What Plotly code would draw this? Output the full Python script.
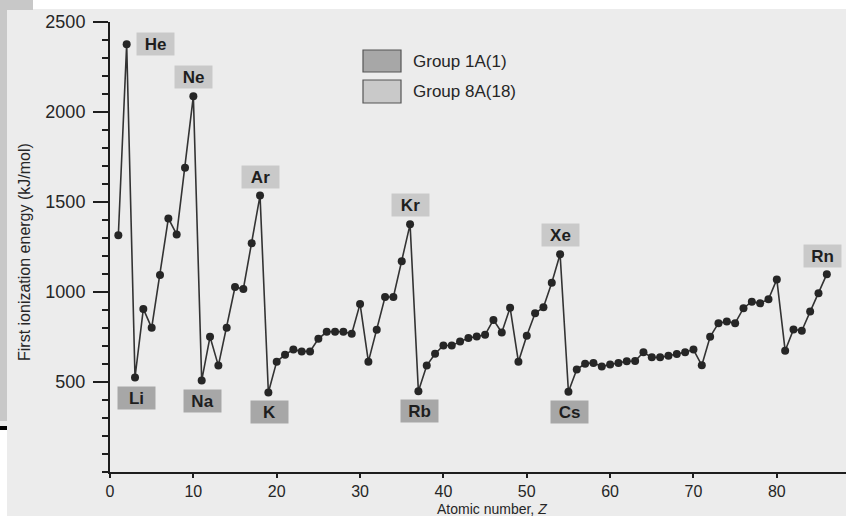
import plotly.graph_objects as go

# ---------------- data ----------------
atomic_number = list(range(1, 87))
ionization_energy = [
    1315, 2376, 525, 906, 801, 1094, 1409, 1320, 1690, 2088,      # 1-10
    508, 751, 591, 801, 1028, 1017, 1271, 1536, 442, 613,          # 11-20
    652, 680, 670, 670, 740, 779, 779, 779, 768, 934,              # 21-30
    613, 790, 972, 972, 1171, 1376, 448, 591, 657, 703,            # 31-40
    703, 725, 744, 753, 762, 845, 775, 913, 612, 757,              # 41-50
    882, 915, 1051, 1210, 446, 569, 602, 606, 586, 597,            # 51-60
    606, 615, 617, 665, 637, 637, 646, 656, 665, 680,              # 61-70
    593, 751, 827, 836, 827, 910, 946, 937, 960, 1070,             # 71-80
    674, 792, 785, 891, 993, 1099,                                 # 81-86
]

group1_symbols = ["Li", "Na", "K", "Rb", "Cs"]
group1_z = [3, 11, 19, 37, 55]
group8_symbols = ["He", "Ne", "Ar", "Kr", "Xe", "Rn"]
group8_z = [2, 10, 18, 36, 54, 86]

x_tick_vals = [0, 10, 20, 30, 40, 50, 60, 70, 80]
y_tick_vals = [500, 1000, 1500, 2000, 2500]
legend_labels = ["Group 1A(1)", "Group 8A(18)"]

# ---------------- style ----------------
W, H = 846, 516
ML, MR, MT, MB = 110, 0, 22, 44
PW, PH = W - ML - MR, H - MT - MB
FONT = "Liberation Sans, Arial, Helvetica, sans-serif"
INK = "#1e1e1e"
TXT = "#262626"
G1_COLOR = "#a7a7a7"
G8_COLOR = "#c9c9c9"
BG = "#ececec"


def px_x(p):
    return (p - ML) / PW


def px_y(p):
    return (H - MB - p) / PH


fig = go.Figure()

fig.add_trace(go.Scatter(
    x=atomic_number, y=ionization_energy, mode="lines+markers",
    line=dict(color="#333333", width=1.6),
    marker=dict(color="#262626", size=8),
    hoverinfo="x+y", showlegend=False,
))

annotations = []
energy_of = dict(zip(atomic_number, ionization_energy))

for sym, z in zip(group8_symbols, group8_z):
    if sym == "He":
        xs, ys = 29, 0
    elif sym == "Rn":
        xs, ys = -4, 18
    else:
        xs, ys = 0, 19
    annotations.append(dict(
        x=z, y=energy_of[z], xref="x", yref="y", text="<b>%s</b>" % sym,
        showarrow=False, xshift=xs, yshift=ys, bgcolor=G8_COLOR,
        width=35, height=20, borderpad=1,
        font=dict(family=FONT, size=17, color=INK),
    ))

for sym, z in zip(group1_symbols, group1_z):
    annotations.append(dict(
        x=z, y=energy_of[z], xref="x", yref="y", text="<b>%s</b>" % sym,
        showarrow=False, xshift=1, yshift=-20, bgcolor=G1_COLOR,
        width=35, height=20, borderpad=1,
        font=dict(family=FONT, size=17, color=INK),
    ))

# legend
shapes = []
leg_rows = [(50, 72), (80, 103)]
for (y0, y1), col, lab in zip(leg_rows, [G1_COLOR, G8_COLOR], legend_labels):
    shapes.append(dict(type="rect", xref="paper", yref="paper",
                       x0=px_x(363), x1=px_x(401), y0=px_y(y1), y1=px_y(y0),
                       fillcolor=col, line=dict(color="#555555", width=1.2)))
    annotations.append(dict(
        x=px_x(411), y=px_y((y0 + y1) / 2), xref="paper", yref="paper",
        text=lab, showarrow=False, xanchor="left", yanchor="middle",
        font=dict(family=FONT, size=17, color=TXT),
    ))

# axis titles
annotations.append(dict(
    x=px_x(25), y=px_y(252), xref="paper", yref="paper",
    text="First ionization energy (kJ/mol)", textangle=-90, showarrow=False,
    xanchor="center", yanchor="middle",
    font=dict(family=FONT, size=16, color=TXT),
))
annotations.append(dict(
    x=px_x(492), y=px_y(509), xref="paper", yref="paper",
    text="Atomic number, <i>Z</i>", showarrow=False,
    xanchor="center", yanchor="middle",
    font=dict(family=FONT, size=14, color=TXT),
))

# photo / slide framing decorations
shapes += [
    dict(type="rect", xref="paper", yref="paper", layer="below",
         x0=px_x(0), x1=px_x(W), y0=px_y(9), y1=px_y(0),
         fillcolor="#ffffff", line=dict(width=0)),
    dict(type="rect", xref="paper", yref="paper", layer="below",
         x0=px_x(0), x1=px_x(33), y0=px_y(10), y1=px_y(0),
         fillcolor="#c8c8c8", line=dict(width=0)),
    dict(type="rect", xref="paper", yref="paper", layer="below",
         x0=px_x(0), x1=px_x(7), y0=px_y(421), y1=px_y(0),
         fillcolor="#c8c8c8", line=dict(width=0)),
    dict(type="rect", xref="paper", yref="paper", layer="below",
         x0=px_x(0), x1=px_x(7), y0=px_y(430), y1=px_y(426),
         fillcolor="#000000", line=dict(width=0)),
    dict(type="rect", xref="paper", yref="paper", layer="below",
         x0=px_x(0), x1=px_x(7), y0=px_y(H), y1=px_y(430),
         fillcolor="#ffffff", line=dict(width=0)),
]

fig.update_layout(
    width=W, height=H,
    margin=dict(l=ML, r=MR, t=MT, b=MB, pad=0),
    paper_bgcolor=BG, plot_bgcolor="rgba(0,0,0,0)",
    font=dict(family=FONT, color=TXT),
    showlegend=False,
    annotations=annotations, shapes=shapes,
    xaxis=dict(
        range=[0, 88.3], tickvals=x_tick_vals, ticks="outside", ticklen=4,
        tickwidth=1.5, tickcolor=INK, showline=True, linecolor=INK, linewidth=2,
        showgrid=False, zeroline=False, tickfont=dict(family=FONT, size=16, color=TXT),
        ticklabelstandoff=0,
    ),
    yaxis=dict(
        range=[0, 2500], tickvals=y_tick_vals, ticks="outside", ticklen=15,
        tickwidth=1.5, tickcolor=INK, showline=True, linecolor=INK, linewidth=2,
        showgrid=False, zeroline=False, tickfont=dict(family=FONT, size=18, color=TXT),
        ticklabelstandoff=4,
        minor=dict(dtick=100, tick0=0, ticks="outside", ticklen=6, tickwidth=1.5,
                   tickcolor=INK, showgrid=False),
    ),
)

fig.write_html("out.html", config={"displayModeBar": False},
               post_script="document.body.style.margin='0';")
